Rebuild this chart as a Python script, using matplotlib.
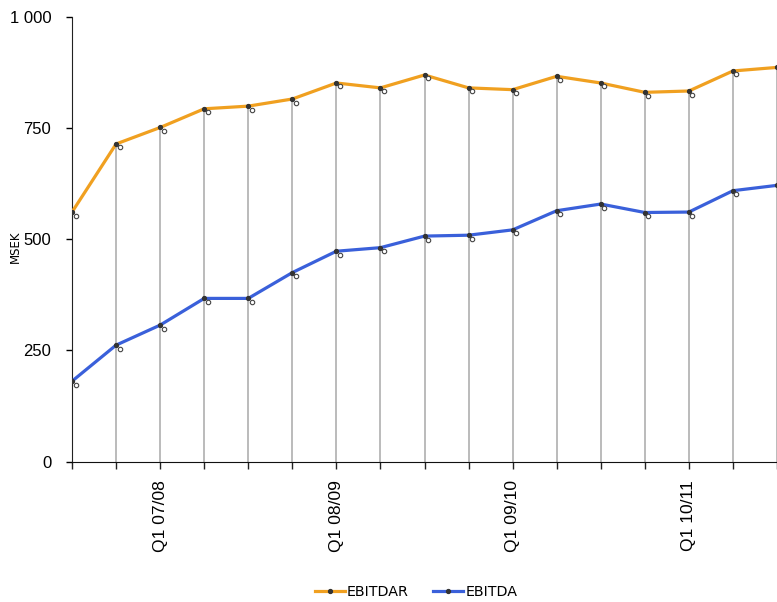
import matplotlib
matplotlib.use("Agg")
import numpy as np
from matplotlib import pyplot as plt
from matplotlib.transforms import offset_copy

# quarters, starting Q3 06/07
quarters = ['Q3 06/07', 'Q4 06/07',
            'Q1 07/08', 'Q2 07/08', 'Q3 07/08', 'Q4 07/08',
            'Q1 08/09', 'Q2 08/09', 'Q3 08/09', 'Q4 08/09',
            'Q1 09/10', 'Q2 09/10', 'Q3 09/10', 'Q4 09/10',
            'Q1 10/11', 'Q2 10/11', 'Q3 10/11']
ebitdar = [561, 714, 751, 793, 799, 815, 851, 840, 869, 840, 836, 866, 851, 830, 833, 878, 886]
ebitda = [181, 262, 307, 367, 367, 425, 473, 481, 507, 509, 521, 564, 579, 560, 561, 609, 621]
yticks = [0, 250, 500, 750, 1000]
ytick_labels = ['0', '250', '500', '750', '1 000']

ORANGE = '#f0a020'
BLUE = '#3a60da'

fig = plt.figure(figsize=(7.77, 6.02), dpi=100)
ax = fig.add_axes([0.0927, 0.233, 0.9073, 0.7393])

x = np.arange(len(quarters))

# drop lines from the top series down to zero
ax.vlines(x, 0, ebitdar, color='#a8a8a8', linewidth=1.1, zorder=1)

shadow = offset_copy(ax.transData, fig=fig, x=3.5, y=-3.5, units='dots')
for values, color, name in [(ebitdar, ORANGE, 'EBITDAR'), (ebitda, BLUE, 'EBITDA')]:
    ax.plot(x, values, color=color, linewidth=2.3, marker='o', markersize=2.8,
            markerfacecolor='#333333', markeredgecolor='#333333', label=name, zorder=3)
    ax.plot(x, values, linestyle='none', marker='o', markersize=3.2,
            markerfacecolor='white', markeredgecolor='#444444', markeredgewidth=0.8,
            transform=shadow, zorder=4, clip_on=True)

ax.set_xlim(0, 15.965)
ax.set_ylim(0, 1000)

ax.set_yticks(yticks, ytick_labels, fontsize=12, family='Liberation Sans')
ax.set_xticks(x, [q if q.startswith('Q1') else '' for q in quarters],
              rotation=90, fontsize=12.6, family='Liberation Sans')
ax.tick_params(axis='y', direction='out', length=4, width=1, pad=11)
ax.tick_params(axis='x', direction='out', length=5, width=1, pad=8, color='#222222')

for side in ['top', 'right']:
    ax.spines[side].set_visible(False)
ax.spines['left'].set_color('#222222')
ax.spines['bottom'].set_color('#111111')

fig.text(15 / 777, 1 - 247 / 602, 'MSEK', rotation=90, fontsize=8.5,
         ha='center', va='center', family='DejaVu Sans')

handles, labels = ax.get_legend_handles_labels()
fig.legend(handles[:2], labels[:2], loc='center', bbox_to_anchor=(416 / 777, 1 - 592 / 602),
           ncol=2, frameon=False, handlelength=2.1, handletextpad=0.15, columnspacing=1.7,
           prop={'family': 'DejaVu Sans', 'size': 10.3})

fig.savefig('out.png', dpi=100)
